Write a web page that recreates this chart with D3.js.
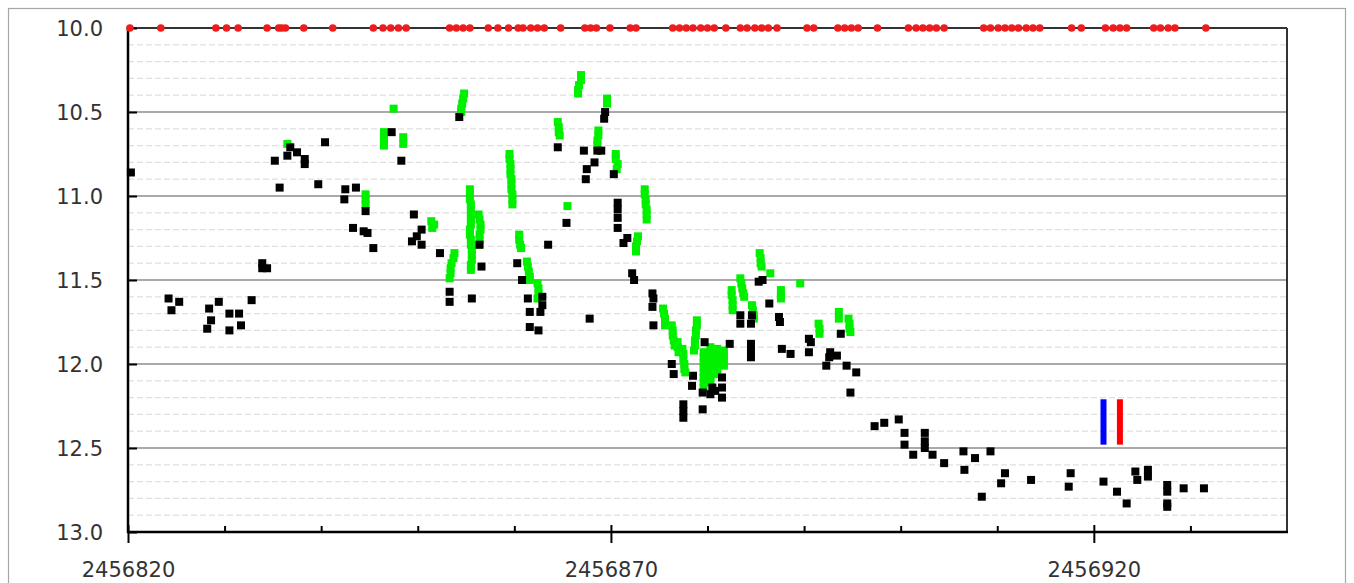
<!DOCTYPE html>
<html>
<head>
<meta charset="utf-8">
<script src="https://cdn.jsdelivr.net/npm/d3@7"></script>
<style>
  html, body { margin: 0; padding: 0; background: #fff; }
  svg { display: block; font-family: "DejaVu Sans", Verdana, sans-serif; }
</style>
</head>
<body>
<svg id="chart" width="1354" height="583"></svg>
<script>
// Light curve: Julian Date vs. magnitude (brighter is up)

// Black squares: [JD, mag]
const blackObs = [
  [2456820.3,10.86],[2456824.2,11.61],[2456825.3,11.63],[2456824.5,11.68],[2456828.4,11.67],
  [2456829.4,11.63],[2456828.6,11.74],[2456828.2,11.79],[2456830.5,11.70],[2456831.5,11.70],
  [2456831.7,11.77],[2456830.5,11.80],[2456832.8,11.62],[2456833.9,11.40],[2456834.4,11.43],
  [2456833.9,11.43],[2456835.2,10.79],[2456835.7,10.95],[2456836.5,10.76],[2456836.8,10.71],
  [2456837.5,10.74],[2456838.3,10.78],[2456838.3,10.81],[2456839.7,10.93],[2456840.4,10.68],
  [2456842.5,10.96],[2456842.4,11.02],[2456843.6,10.95],[2456844.6,11.09],[2456843.3,11.19],
  [2456844.4,11.21],[2456844.8,11.22],[2456845.4,11.31],[2456847.3,10.62],[2456848.3,10.79],
  [2456849.6,11.11],[2456849.4,11.27],[2456849.9,11.24],[2456850.4,11.20],[2456850.4,11.29],
  [2456852.3,11.34],[2456853.3,11.57],[2456853.3,11.63],[2456854.3,10.53],[2456855.6,11.61],
  [2456856.4,11.29],[2456856.6,11.42],[2456860.3,11.40],[2456860.8,11.50],[2456861.4,11.61],
  [2456861.6,11.69],[2456862.7,11.69],[2456861.6,11.78],[2456862.5,11.80],[2456862.9,11.60],
  [2456862.9,11.65],[2456863.5,11.29],[2456864.5,10.71],[2456865.4,11.16],[2456867.8,11.73],
  [2456867.2,10.73],[2456867.5,10.84],[2456867.4,10.90],[2456868.3,10.80],[2456868.6,10.73],
  [2456869.0,10.73],[2456869.4,10.50],[2456869.3,10.54],[2456870.3,10.87],[2456870.7,11.04],
  [2456870.7,11.08],[2456870.7,11.13],[2456870.7,11.19],[2456871.3,11.28],[2456871.7,11.25],
  [2456872.2,11.46],[2456872.4,11.50],[2456874.3,11.58],[2456874.4,11.61],[2456874.3,11.66],
  [2456874.4,11.77],[2456876.3,12.00],[2456876.5,12.06],[2456878.5,12.07],[2456878.4,12.13],
  [2456877.5,12.24],[2456877.5,12.28],[2456877.5,12.32],[2456879.7,11.87],[2456879.5,12.17],
  [2456880.3,12.18],[2456881.5,12.20],[2456881.5,12.08],[2456881.5,12.14],[2456880.5,12.14],
  [2456879.5,12.27],[2456880.8,12.16],[2456882.3,11.88],[2456883.4,11.71],[2456883.4,11.76],
  [2456884.5,11.76],[2456884.6,11.71],[2456884.5,11.88],[2456884.5,11.92],[2456884.5,11.96],
  [2456885.3,11.51],[2456885.7,11.50],[2456886.4,11.64],[2456887.4,11.72],[2456887.5,11.75],
  [2456887.7,11.91],[2456888.6,11.94],[2456890.5,11.85],[2456890.7,11.87],[2456890.5,11.93],
  [2456893.8,11.82],[2456892.7,11.93],[2456892.6,11.96],[2456892.3,12.01],[2456893.4,11.95],
  [2456894.4,12.01],[2456895.4,12.05],[2456894.8,12.17],[2456897.3,12.37],[2456898.3,12.35],
  [2456899.8,12.33],[2456900.4,12.41],[2456900.4,12.48],[2456901.3,12.54],[2456902.5,12.41],
  [2456902.5,12.46],[2456902.5,12.50],[2456903.3,12.54],[2456904.5,12.59],[2456906.5,12.52],
  [2456906.6,12.63],[2456907.7,12.56],[2456909.3,12.52],[2456908.4,12.79],[2456910.8,12.65],
  [2456910.4,12.71],[2456913.5,12.69],[2456917.6,12.65],[2456917.4,12.73],[2456921.0,12.70],
  [2456922.4,12.76],[2456923.4,12.83],[2456924.3,12.64],[2456924.5,12.69],[2456925.6,12.63],
  [2456925.6,12.67],[2456927.6,12.72],[2456927.6,12.76],[2456927.6,12.83],[2456927.6,12.85],
  [2456929.3,12.74],[2456931.4,12.74]
];

// Green squares: [JD, mag]
const greenObs = [
  [2456836.5,10.69],
  [2456846.5,10.62],[2456846.5,10.65],[2456846.5,10.68],[2456846.5,10.70],
  [2456847.5,10.48],
  [2456848.5,10.65],[2456848.5,10.69],
  [2456844.6,10.99],[2456844.6,11.02],[2456844.6,11.05],
  [2456851.4,11.15],[2456851.7,11.17],[2456851.5,11.19],
  [2456853.8,11.34],[2456853.7,11.37],[2456853.5,11.40],[2456853.4,11.43],[2456853.4,11.46],[2456853.3,11.49],
  [2456854.8,10.39],[2456854.7,10.42],[2456854.6,10.45],[2456854.5,10.48],[2456854.5,10.50],
  [2456855.4,10.96],[2456855.4,10.99],[2456855.4,11.02],[2456855.5,11.05],[2456855.5,11.08],[2456855.5,11.11],
  [2456855.5,11.14],[2456855.5,11.17],[2456855.4,11.20],[2456855.4,11.23],[2456855.5,11.26],[2456855.5,11.29],
  [2456855.6,11.32],[2456855.6,11.35],[2456855.6,11.38],[2456855.5,11.41],[2456855.5,11.44],
  [2456856.3,11.11],[2456856.4,11.14],[2456856.5,11.17],[2456856.5,11.20],[2456856.4,11.23],[2456856.4,11.26],[2456856.3,11.29],
  [2456859.5,10.75],[2456859.5,10.78],[2456859.6,10.81],[2456859.6,10.84],[2456859.6,10.87],[2456859.7,10.90],
  [2456859.7,10.93],[2456859.7,10.96],[2456859.8,10.99],[2456859.8,11.02],[2456859.8,11.05],
  [2456860.5,11.23],[2456860.5,11.26],[2456860.6,11.29],[2456860.7,11.31],
  [2456861.3,11.39],[2456861.4,11.42],[2456861.5,11.45],[2456861.6,11.48],[2456861.6,11.50],
  [2456862.4,11.52],[2456862.5,11.55],[2456862.5,11.58],[2456862.4,11.61],
  [2456864.5,10.56],[2456864.6,10.59],[2456864.6,10.62],[2456864.7,10.64],
  [2456865.5,11.06],
  [2456866.9,10.28],[2456866.9,10.31],[2456866.7,10.34],[2456866.6,10.37],[2456866.6,10.39],
  [2456868.7,10.61],[2456868.7,10.64],[2456868.6,10.67],[2456868.6,10.70],
  [2456869.6,10.42],[2456869.6,10.45],
  [2456870.5,10.75],[2456870.5,10.78],[2456870.7,10.81],[2456870.6,10.84],
  [2456872.8,11.24],[2456872.7,11.27],[2456872.6,11.30],[2456872.6,11.33],
  [2456873.5,10.96],[2456873.5,10.99],[2456873.6,11.02],[2456873.6,11.05],[2456873.7,11.08],[2456873.7,11.11],[2456873.7,11.14],
  [2456875.4,11.67],[2456875.5,11.70],[2456875.6,11.73],[2456875.6,11.77],
  [2456876.3,11.77],[2456876.4,11.80],[2456876.4,11.83],[2456876.5,11.86],[2456876.6,11.89],
  [2456876.9,11.87],[2456876.9,11.90],[2456877.0,11.93],
  [2456877.4,11.91],[2456877.5,11.94],[2456877.5,11.97],[2456877.6,12.00],[2456877.6,12.03],[2456877.7,12.05],
  [2456878.9,11.74],[2456878.9,11.77],[2456878.8,11.80],[2456878.8,11.83],[2456878.7,11.86],[2456878.7,11.89],[2456878.6,11.92],
  [2456879.6,11.93],[2456879.6,11.96],[2456879.6,11.99],[2456879.6,12.02],[2456879.6,12.05],[2456879.6,12.08],[2456879.6,12.11],[2456879.6,12.14],
  [2456880.3,11.90],[2456880.3,11.93],[2456880.3,11.96],[2456880.3,11.99],[2456880.3,12.02],[2456880.3,12.05],[2456880.3,12.08],[2456880.3,12.11],
  [2456881.0,11.91],[2456881.0,11.94],[2456881.0,11.97],[2456881.0,12.00],[2456881.0,12.03],[2456881.0,12.06],
  [2456881.7,11.92],[2456881.7,11.95],[2456881.7,11.98],[2456881.7,12.01],
  [2456882.5,11.56],[2456882.5,11.59],[2456882.6,11.62],[2456882.6,11.65],[2456882.6,11.68],
  [2456883.4,11.49],[2456883.5,11.52],[2456883.6,11.55],[2456883.7,11.58],[2456883.8,11.60],
  [2456884.6,11.65],[2456884.7,11.68],[2456884.8,11.71],[2456884.8,11.73],
  [2456885.4,11.34],[2456885.5,11.37],[2456885.5,11.40],[2456885.6,11.42],
  [2456886.5,11.46],
  [2456887.6,11.56],[2456887.6,11.59],[2456887.6,11.61],
  [2456889.6,11.52],
  [2456891.5,11.76],[2456891.6,11.79],[2456891.6,11.82],
  [2456893.6,11.69],[2456893.6,11.73],
  [2456894.6,11.73],[2456894.7,11.76],[2456894.7,11.79],[2456894.8,11.81]
];

// Red dots along the top edge (dates only)
const redDates = [
  2456820.2,2456823.4,2456829.1,2456830.2,2456831.4,2456834.4,2456835.6,2456835.9,2456836.3,2456838.2,
  2456841.2,2456845.4,2456846.4,2456847.2,2456848.0,2456848.8,2456853.3,2456854.0,2456854.7,2456855.4,
  2456857.3,2456858.3,2456859.4,2456860.4,2456860.9,2456861.7,2456862.4,2456863.1,2456864.8,2456867.3,
  2456867.9,2456868.5,2456869.9,2456872.0,2456872.6,2456876.4,2456877.1,2456877.8,2456878.5,2456879.3,
  2456880.0,2456880.7,2456881.9,2456883.4,2456884.1,2456884.9,2456885.6,2456886.3,2456887.2,2456890.3,
  2456891.0,2456893.5,2456894.2,2456894.9,2456895.6,2456897.6,2456900.8,2456901.6,2456902.3,2456903.0,
  2456903.7,2456904.5,2456908.6,2456909.3,2456910.1,2456910.8,2456911.5,2456912.2,2456913.0,2456913.7,
  2456914.4,2456917.7,2456918.7,2456921.2,2456922.0,2456922.7,2456923.4,2456926.2,2456926.9,2456927.7,
  2456928.4,2456931.6
];
const redDotMag = 10.0;

// Two vertical marker bars
const markerBars = [
  { jd: 2456921.0, top: 12.21, bottom: 12.48, color: "#0000ff" },
  { jd: 2456922.7, top: 12.21, bottom: 12.48, color: "#ff0000" }
];

// Axis ticks
const xLabelTicks = [2456820, 2456870, 2456920];
const xMinorTicks = [2456830, 2456840, 2456850, 2456860, 2456880, 2456890, 2456900, 2456910, 2456930];
const yMajorTicks = [10.0, 10.5, 11.0, 11.5, 12.0, 12.5, 13.0];
const yMinorTicks = [10.1,10.2,10.3,10.4,10.6,10.7,10.8,10.9,11.1,11.2,11.3,11.4,11.6,11.7,11.8,11.9,
                     12.1,12.2,12.3,12.4,12.6,12.7,12.8,12.9];

(function draw() {
  const svg = d3.select("#chart");
  const pl = 128, pr = 1287, pt = 28, pb = 532;

  const x = d3.scaleLinear().domain([2456820, 2456940]).range([pl, pr]);
  const y = d3.scaleLinear().domain([10, 13]).range([pt, pb]);

  // outer frame
  svg.append("rect")
    .attr("x", 8.5).attr("y", 8.5).attr("width", 1337).attr("height", 600)
    .attr("fill", "#fff").attr("stroke", "#a6a6a6").attr("stroke-width", 1.2);

  // minor gridlines (dashed)
  svg.append("g").selectAll("line").data(yMinorTicks).join("line")
    .attr("x1", pl).attr("x2", pr)
    .attr("y1", d => y(d)).attr("y2", d => y(d))
    .attr("stroke", "#e0e0e0").attr("stroke-width", 1.2)
    .attr("stroke-dasharray", "6,3");

  // major gridlines
  svg.append("g").selectAll("line").data(yMajorTicks.filter(d => d > 10 && d < 13)).join("line")
    .attr("x1", pl).attr("x2", pr)
    .attr("y1", d => y(d)).attr("y2", d => y(d))
    .attr("stroke", "#8c8c8c").attr("stroke-width", 1.6);

  // plot frame: top and right
  svg.append("line").attr("x1", pl).attr("x2", pr).attr("y1", pt).attr("y2", pt)
    .attr("stroke", "#333").attr("stroke-width", 2);
  svg.append("line").attr("x1", pr).attr("x2", pr).attr("y1", pt).attr("y2", pb)
    .attr("stroke", "#333").attr("stroke-width", 2);

  // Y axis
  const yAxis = d3.axisLeft(y).tickValues(yMajorTicks).tickFormat(d3.format(".1f"))
    .tickSize(-9).tickPadding(25);
  const gy = svg.append("g").attr("transform", `translate(${pl},0)`).call(yAxis);
  gy.select(".domain").remove();
  gy.selectAll(".tick line").attr("stroke", "#000").attr("stroke-width", 2);
  gy.selectAll(".tick text").attr("font-size", 21).attr("fill", "#333")
    .attr("font-family", "DejaVu Sans, Verdana, sans-serif").attr("dy", "0.36em");

  // X axis: minor inward ticks
  const xMinorAxis = d3.axisBottom(x).tickValues(xMinorTicks).tickFormat("").tickSize(-6);
  const gxm = svg.append("g").attr("transform", `translate(0,${pb})`).call(xMinorAxis);
  gxm.select(".domain").remove();
  gxm.selectAll(".tick line").attr("stroke", "#000").attr("stroke-width", 2);

  // X axis: labelled ticks crossing the axis
  const xAxis = d3.axisBottom(x).tickValues(xLabelTicks).tickFormat(d3.format("d"))
    .tickSize(11).tickPadding(19);
  const gx = svg.append("g").attr("transform", `translate(0,${pb})`).call(xAxis);
  gx.select(".domain").remove();
  gx.selectAll(".tick line").attr("y1", -7).attr("stroke", "#000").attr("stroke-width", 2);
  gx.selectAll(".tick text").attr("font-size", 21).attr("fill", "#333")
    .attr("font-family", "DejaVu Sans, Verdana, sans-serif");

  // axis lines
  svg.append("line").attr("x1", pl).attr("x2", pl).attr("y1", pt - 1).attr("y2", pb + 1)
    .attr("stroke", "#000").attr("stroke-width", 2.5);
  svg.append("line").attr("x1", pl - 1).attr("x2", pr + 1).attr("y1", pb).attr("y2", pb)
    .attr("stroke", "#000").attr("stroke-width", 2.5);

  const S = 8; // marker size

  // green squares
  svg.append("g").selectAll("rect").data(greenObs).join("rect")
    .attr("x", d => x(d[0]) - S / 2).attr("y", d => y(d[1]) - S / 2)
    .attr("width", S).attr("height", S).attr("fill", "#00f000");

  // black squares
  svg.append("g").selectAll("rect").data(blackObs).join("rect")
    .attr("x", d => x(d[0]) - S / 2).attr("y", d => y(d[1]) - S / 2)
    .attr("width", S).attr("height", S).attr("fill", "#000");

  // red dots on the top edge
  svg.append("g").selectAll("circle").data(redDates).join("circle")
    .attr("cx", d => x(d)).attr("cy", y(redDotMag)).attr("r", 3.8)
    .attr("fill", "#ee1c1c");

  // marker bars
  svg.append("g").selectAll("rect").data(markerBars).join("rect")
    .attr("x", d => x(d.jd) - 3).attr("y", d => y(d.top))
    .attr("width", 6).attr("height", d => y(d.bottom) - y(d.top))
    .attr("fill", d => d.color);
})();
</script>
</body>
</html>
